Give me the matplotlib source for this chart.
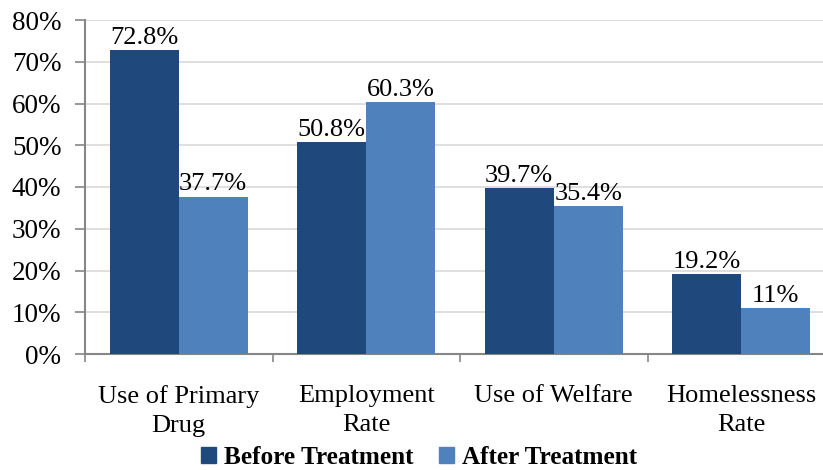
import matplotlib
matplotlib.use("Agg")
import matplotlib.pyplot as plt
import numpy as np
from matplotlib.patches import Patch

plt.rcParams['font.family'] = ['Liberation Serif', 'DejaVu Serif']

categories = ["Use of Primary\nDrug", "Employment\nRate", "Use of Welfare", "Homelessness\nRate"]
before = [72.8, 50.8, 39.7, 19.2]
after = [37.7, 60.3, 35.4, 11.0]
before_labels = ["72.8%", "50.8%", "39.7%", "19.2%"]
after_labels = ["37.7%", "60.3%", "35.4%", "11%"]
series_names = ["Before Treatment", "After Treatment"]
yticks = [0, 10, 20, 30, 40, 50, 60, 70, 80]

c_before = "#1F497D"
c_after = "#4F81BD"

fig = plt.figure(figsize=(8.23, 4.70), dpi=100)
ax = fig.add_axes([85 / 823, 1 - 354 / 470, 750 / 823, 334 / 470])

x = np.arange(len(categories))
w = 0.368
b1 = ax.bar(x - w / 2, before, w, color=c_before, zorder=3)
b2 = ax.bar(x + w / 2, after, w, color=c_after, zorder=3)

for bars, labels in ((b1, before_labels), (b2, after_labels)):
    for r, lab in zip(bars, labels):
        ax.text(r.get_x() + r.get_width() / 2, r.get_height() + 0.3, lab,
                ha="center", va="bottom", fontsize=19, color="#000000")

ax.set_xlim(-0.5, len(categories) - 0.5)
ax.set_ylim(0, 80)
ax.set_yticks(yticks)
ax.set_yticklabels([f"{v}%" for v in yticks], fontsize=19.5)
ax.yaxis.grid(True, color="#D9D9D9", linewidth=1.2, zorder=0)
ax.set_axisbelow(True)

# category boundaries carry the x tick marks; labels sit at category centres
ax.set_xticks(np.arange(len(categories) + 1) - 0.5)
ax.set_xticklabels([])
ax.set_xticks(x, minor=True)
ax.set_xticklabels(categories, minor=True, fontsize=19, linespacing=1.45)
ax.tick_params(axis="x", which="minor", length=0, pad=22)
ax.tick_params(axis="x", which="major", length=6, width=1.2, color="#868686", direction="out")
ax.tick_params(axis="y", length=7, width=1.2, color="#868686", direction="out", pad=10)

for s in ("top", "right"):
    ax.spines[s].set_visible(False)
for s in ("left", "bottom"):
    ax.spines[s].set_color("#868686")
    ax.spines[s].set_linewidth(1.5)

handles = [Patch(color=c_before), Patch(color=c_after)]
fig.legend(handles, series_names, loc="center", bbox_to_anchor=(419 / 823, 1 - 457 / 470),
           ncol=2, frameon=False, prop={"weight": "bold", "size": 18.2},
           handlelength=0.6, handleheight=0.6, handletextpad=0.3, columnspacing=1.0,
           borderaxespad=0)

fig.savefig("out.png", dpi=100)
